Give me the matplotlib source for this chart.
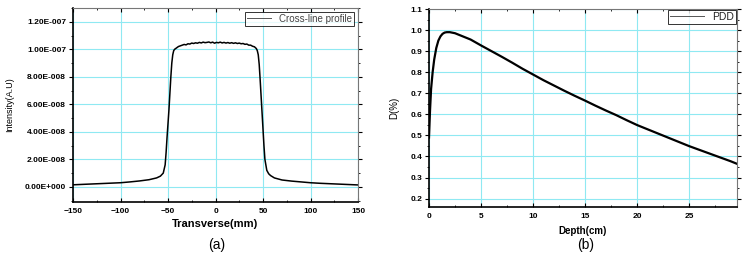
import matplotlib.pyplot as plt
from matplotlib.ticker import FuncFormatter, MultipleLocator, AutoMinorLocator
import numpy as np

plt.rcParams['font.family'] = ['Liberation Sans', 'DejaVu Sans']

# Perfil transversal (cross-line)
x_prof = [-150, -130, -110, -100, -90, -80, -70, -62, -58, -55, -53, -52, -51, -50, -49,
          -48, -47, -46, -45, -44, -43, -41, -39, -37, -35, -33, -31, -29, -27,
          -25, -23, -21, -19, -17, -15, -13, -11, -9, -7, -5, -3, -1, 1, 3, 5, 7, 9, 11,
          13, 15, 17, 19, 21, 23, 25, 27, 29, 31, 33, 35, 37, 39, 41, 43, 44, 45,
          46, 47, 48, 49, 50, 51, 52, 54, 56, 58, 62, 70, 80, 90, 100, 110, 130, 150]
y_prof = [0.15, 0.21, 0.27, 0.30, 0.36, 0.43, 0.52, 0.65, 0.78, 1.0, 1.6, 2.5, 3.6, 4.6, 5.6,
          6.8, 8.0, 9.0, 9.6, 9.9, 10.0, 10.1, 10.2, 10.25, 10.3, 10.35, 10.32, 10.4, 10.38,
          10.45, 10.42, 10.47, 10.44, 10.5, 10.46, 10.52, 10.48, 10.5, 10.53, 10.47, 10.52, 10.44,
          10.5, 10.47, 10.52, 10.46, 10.5, 10.45, 10.49, 10.44, 10.48, 10.43, 10.47, 10.42, 10.45,
          10.4, 10.42, 10.36, 10.38, 10.3, 10.3, 10.22, 10.18, 10.05, 9.9, 9.6,
          8.9, 7.8, 6.6, 5.4, 4.2, 3.0, 2.0, 1.2, 0.95, 0.82, 0.65, 0.5, 0.42, 0.36, 0.30, 0.26, 0.2, 0.14]
y_prof = [v * 1e-8 for v in y_prof]

# PDD
depth = [0.0, 0.1, 0.2, 0.35, 0.5, 0.7, 0.9, 1.1, 1.3, 1.5, 1.7, 2.0, 2.5, 3.0, 4.0, 5.0,
         6.0, 7.0, 8.0, 9.0, 10.0, 11.0, 12.0, 13.0, 14.0, 15.0, 16.0, 17.0, 18.0, 19.0,
         20.0, 21.0, 22.0, 23.0, 24.0, 25.0, 26.0, 27.0, 28.0, 29.0, 29.6]
pdd = [0.49, 0.62, 0.72, 0.80, 0.86, 0.915, 0.95, 0.97, 0.982, 0.988, 0.99, 0.99, 0.985, 0.975,
       0.955, 0.927, 0.90, 0.873, 0.845, 0.816, 0.789, 0.762, 0.737, 0.712, 0.688, 0.665, 0.641,
       0.618, 0.596, 0.572, 0.549, 0.529, 0.509, 0.489, 0.469, 0.449, 0.431, 0.413, 0.395, 0.377, 0.365]

grid_col = '#8fe9f2'


def sci_fmt(v, p):
    if abs(v) < 1e-12:
        return '0.00E+000'
    e = int(np.floor(np.log10(abs(v))))
    return '%.2fE-%03d' % (v / 10 ** e, -e)


def style_axis(ax):
    ax.grid(True, color=grid_col, linewidth=0.8)
    ax.set_axisbelow(True)
    ax.xaxis.set_minor_locator(AutoMinorLocator(2))
    ax.yaxis.set_minor_locator(AutoMinorLocator(2))
    ax.tick_params(axis='x', which='both', direction='in', top=True, pad=4)
    ax.tick_params(axis='y', which='both', direction='out', right=True, pad=2)
    ax.tick_params(which='major', length=3, width=0.8, labelsize=6)
    ax.tick_params(which='minor', length=1.5, width=0.6)
    ax.spines['left'].set_linewidth(1.2)
    ax.spines['bottom'].set_linewidth(1.2)
    ax.spines['top'].set_color('#777777')
    ax.spines['right'].set_color('#777777')


fig = plt.figure(figsize=(7.47, 2.61), dpi=100)

# (a)
ax1 = fig.add_axes([73 / 747, 1 - 202 / 261, 285 / 747, 194 / 261])
ax1.plot(x_prof, y_prof, color='black', linewidth=1.1, label='Cross-line profile')
ax1.set_xlim(-150, 150)
ax1.set_ylim(-1.1e-8, 1.3e-7)
ax1.xaxis.set_major_locator(MultipleLocator(50))
ax1.yaxis.set_major_locator(MultipleLocator(2e-8))
ax1.yaxis.set_major_formatter(FuncFormatter(sci_fmt))
style_axis(ax1)
ax1.set_xlabel('Transverse(mm)', fontsize=8, fontweight='bold', labelpad=3)
ax1.set_ylabel('Intensity(A.U)', fontsize=6.5, labelpad=8)
leg1 = ax1.legend(loc='upper right', fontsize=7, frameon=True, fancybox=False,
                  handlelength=2.5, borderpad=0.2, borderaxespad=0.4)
leg1.get_frame().set_edgecolor('black')
leg1.get_frame().set_linewidth(0.7)
leg1.get_lines()[0].set_color('#555555')
leg1.get_lines()[0].set_linewidth(0.7)
for t in leg1.get_texts():
    t.set_color('#444444')

# (b)
ax2 = fig.add_axes([429 / 747, 1 - 207 / 261, 308 / 747, 198 / 261])
ax2.plot(depth, pdd, color='black', linewidth=1.6, label='PDD')
ax2.set_xlim(0, 29.6)
ax2.set_ylim(0.16, 1.1)
ax2.xaxis.set_major_locator(MultipleLocator(5))
ax2.yaxis.set_major_locator(MultipleLocator(0.1))
ax2.yaxis.set_major_formatter(FuncFormatter(lambda v, p: '%.1f' % v))
style_axis(ax2)
ax2.set_xlabel('Depth(cm)', fontsize=7, fontweight='bold', labelpad=5)
ax2.set_ylabel('D(%)', fontsize=7, labelpad=8)
leg2 = ax2.legend(loc='upper right', fontsize=7.5, frameon=True, fancybox=False,
                  handlelength=3.2, borderpad=0.2, borderaxespad=0.1)
leg2.get_frame().set_edgecolor('black')
leg2.get_frame().set_linewidth(0.7)
leg2.get_lines()[0].set_color('#555555')
leg2.get_lines()[0].set_linewidth(0.7)
for t in leg2.get_texts():
    t.set_color('#222222')

for ax in (ax1, ax2):
    for lab in ax.get_xticklabels() + ax.get_yticklabels():
        lab.set_fontweight('bold')

fig.text(217 / 747, 1 - 245 / 261, '(a)', fontsize=10, ha='center', va='center')
fig.text(586 / 747, 1 - 245 / 261, '(b)', fontsize=10, ha='center', va='center')

fig.savefig('out.png', dpi=100)
